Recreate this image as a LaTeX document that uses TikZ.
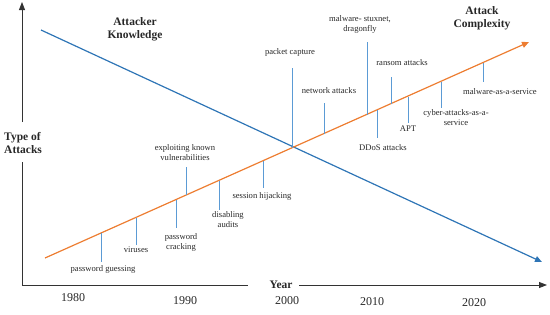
\documentclass[tikz,border=0pt]{standalone}
\usepackage{fontspec}
\setmainfont{Liberation Serif}
\usetikzlibrary{arrows.meta}
\definecolor{kblue}{RGB}{46,117,182}
\definecolor{korange}{RGB}{237,125,49}
\definecolor{tblue}{RGB}{91,155,213}
\definecolor{txt}{RGB}{40,40,40}
\tikzset{
  lbl/.style={inner sep=0pt, align=center, text=txt, font=\fontsize{8.6}{10}\selectfont},
  head/.style={inner sep=0pt, align=center, text=txt, font=\fontsize{11.5}{13}\selectfont\bfseries},
  yr/.style={inner sep=0pt, text=txt, font=\fontsize{12}{14}\selectfont},
  tick/.style={draw=tblue, line width=0.9pt},
  axis/.style={draw=black!80, line width=0.9pt},
  trend/.style={line width=1.2pt, -{Triangle[length=7pt,width=6pt]}}
}
\begin{document}
\begin{tikzpicture}[x=1pt,y=-1pt]
\useasboundingbox (0,0) rectangle (550,314);
% axes
\coordinate (O) at (22,285);
\coordinate (ytop) at (22,2);
\coordinate (xend) at (547,285);
\node[head, align=left, anchor=west] (typeatt) at (4,143) {Type of\\Attacks};
\node[head] (year) at (281,285) {Year};
\draw[axis] (O) -- (22,162);
\draw[axis, -{Triangle[length=8pt,width=6pt]}] (22,122) -- (ytop);
\draw[axis] (O) -- (248,285);
\draw[axis, -{Triangle[length=8pt,width=6pt]}] (299,285) -- (xend);
% years
\node[yr] (y1980) at (73,298) {1980};
\node[yr] (y1990) at (185,301) {1990};
\node[yr] (y2000) at (287,301) {2000};
\node[yr] (y2010) at (372,302) {2010};
\node[yr] (y2020) at (474,303) {2020};
% headings
\node[head] (know) at (135,29) {Attacker\\Knowledge};
\node[head] (cplx) at (482,18) {Attack\\Complexity};
% trend lines
\coordinate (bs) at (41,30);
\coordinate (be) at (542,262);
\coordinate (os) at (45,258);
\coordinate (oe) at (529,42);
\draw[trend, draw=kblue, kblue] (bs) -- (be);
\draw[trend, draw=korange, korange] (os) -- (oe);
% tick labels
\node[lbl] (pg) at (103,269) {password guessing};
\node[lbl] (vir) at (136,250) {viruses};
\node[lbl] (pc) at (181,242) {password\\cracking};
\node[lbl] (ekv) at (185,153) {exploiting known\\vulnerabilities};
\node[lbl] (da) at (228,220) {disabling\\audits};
\node[lbl] (sh) at (262,196) {session hijacking};
\node[lbl] (pcap) at (290,52) {packet capture};
\node[lbl] (na) at (329,91) {network attacks};
\node[lbl] (mal) at (360,24) {malware- stuxnet,\\dragonfly};
\node[lbl] (ddos) at (383,148) {DDoS attacks};
\node[lbl] (ran) at (402,63) {ransom attacks};
\node[lbl] (apt) at (408,129) {APT};
\node[lbl] (cyb) at (456,118) {cyber-attacks-as-a-\\service};
\node[lbl] (maas) at (500,92) {malware-as-a-service};
% ticks (from the orange line)
\draw[tick] (101,233.1) -- (101,262);
\draw[tick] (136,217.5) -- (136,245);
\draw[tick] (176,199.7) -- (176,228);
\draw[tick] (186,195.2) -- (186,167);
\draw[tick] (219,180.6) -- (219,210);
\draw[tick] (263,161) -- (263,188);
\draw[tick] (292,147.5) -- (292,68);
\draw[tick] (324,133.8) -- (324,103);
\draw[tick] (367,114.7) -- (367,42);
\draw[tick] (377,110.2) -- (377,138);
\draw[tick] (391,104) -- (391,77);
\draw[tick] (408,96.5) -- (408,123);
\draw[tick] (441,81.8) -- (441,108);
\draw[tick] (483,63) -- (483,82);
\end{tikzpicture}
\end{document}
